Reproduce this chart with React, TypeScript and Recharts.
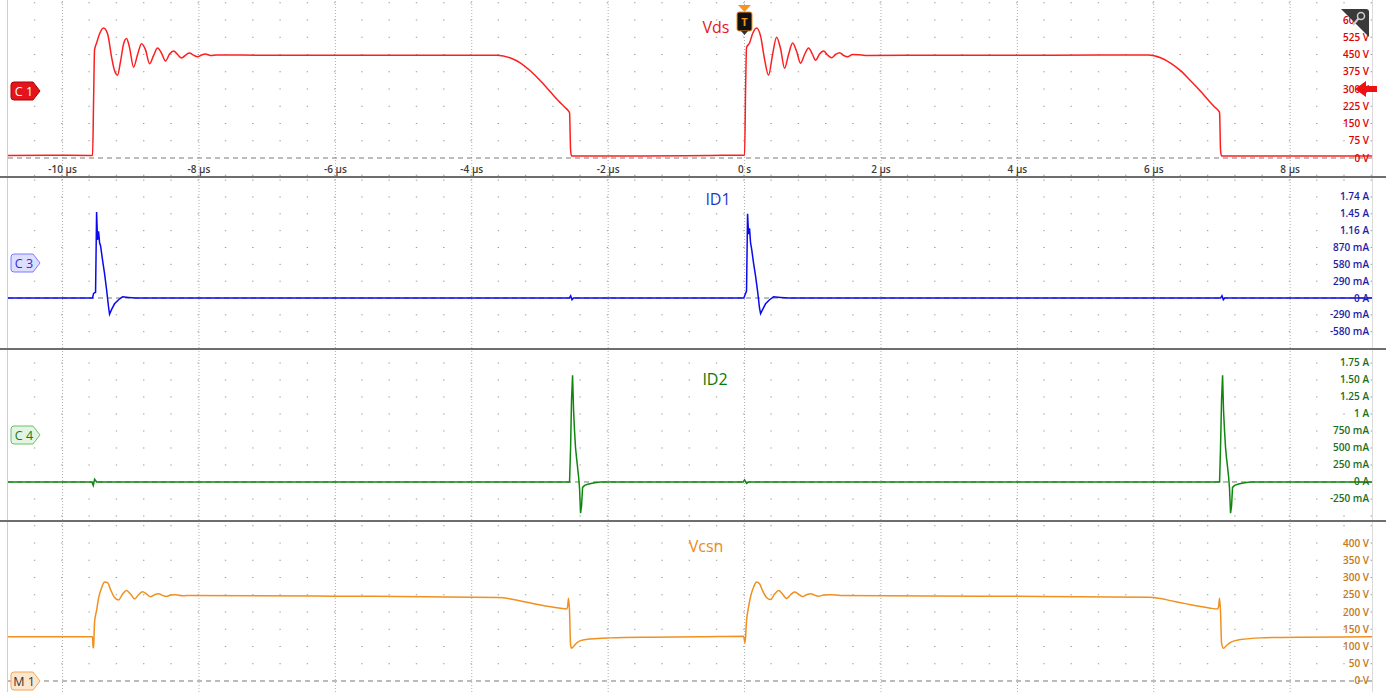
import React from 'react';
import { LineChart, Line, XAxis, YAxis, ReferenceLine } from 'recharts';

// ---------- axes ----------
const X_DOMAIN: [number, number] = [-10.8, 9.2];
const timeTicks = [-10, -8, -6, -4, -2, 0, 2, 4, 6, 8];
const timeTickLabels = ['-10 µs', '-8 µs', '-6 µs', '-4 µs', '-2 µs', '0 s', '2 µs', '4 µs', '6 µs', '8 µs'];

const vdsTicks = [0, 75, 150, 225, 300, 375, 450, 525, 600];
const vdsTickLabels = ['0 V', '75 V', '150 V', '225 V', '300 V', '375 V', '450 V', '525 V', '600 V'];
const vdsGrid = [-75, 75, 150, 225, 300, 375, 450, 525, 600, 675];

const id1Ticks = [-0.58, -0.29, 0, 0.29, 0.58, 0.87, 1.16, 1.45, 1.74];
const id1TickLabels = ['-580 mA', '-290 mA', '0 A', '290 mA', '580 mA', '870 mA', '1.16 A', '1.45 A', '1.74 A'];
const id1Grid = [-0.58, -0.29, 0.29, 0.58, 0.87, 1.16, 1.45, 1.74, 2.03];

const id2Ticks = [-0.25, 0, 0.25, 0.5, 0.75, 1, 1.25, 1.5, 1.75];
const id2TickLabels = ['-250 mA', '0 A', '250 mA', '500 mA', '750 mA', '1 A', '1.25 A', '1.50 A', '1.75 A'];
const id2Grid = [-0.5, -0.25, 0.25, 0.5, 0.75, 1, 1.25, 1.5, 1.75];

const vcsnTicks = [0, 50, 100, 150, 200, 250, 300, 350, 400];
const vcsnTickLabels = ['0 V', '50 V', '100 V', '150 V', '200 V', '250 V', '300 V', '350 V', '400 V'];
const vcsnGrid = [50, 100, 150, 200, 250, 300, 350, 400, 450];

// ---------- series (time µs, value) ----------
const vdsPoints: [number, number][] = [
  [-10.8, 11], [-10.2, 12], [-9.6, 11], [-9.56, 12], [-9.545, 250], [-9.531, 470], [-9.501, 500],
  [-9.457, 540], [-9.399, 565], [-9.34, 540], [-9.282, 440], [-9.238, 380], [-9.194, 360], [-9.15, 420],
  [-9.106, 495], [-9.062, 520], [-9.018, 480], [-8.959, 395], [-8.9, 450], [-8.842, 497], [-8.783, 470],
  [-8.724, 410], [-8.666, 445], [-8.607, 478], [-8.548, 455], [-8.49, 422], [-8.431, 452], [-8.372, 465],
  [-8.314, 450], [-8.255, 435], [-8.196, 447], [-8.138, 456], [-8.079, 447], [-8.02, 440], [-7.962, 448],
  [-7.903, 452], [-7.83, 446], [-7.742, 448], [-7.0, 447], [-5.5, 447], [-4.5, 447], [-3.622, 447],
  [-3.431, 435], [-3.284, 413], [-3.138, 378], [-2.991, 335], [-2.845, 287], [-2.727, 248], [-2.639, 222],
  [-2.581, 204], [-2.566, 196], [-2.551, 35], [-2.537, 9], [-1.5, 9], [-0.5, 11], [-0.02, 12],
  [0.0, 12], [0.015, 300], [0.029, 480], [0.073, 500], [0.117, 540], [0.176, 565], [0.235, 530],
  [0.293, 430], [0.352, 360], [0.411, 450], [0.469, 525], [0.528, 475], [0.587, 390], [0.645, 450],
  [0.704, 500], [0.762, 465], [0.821, 412], [0.88, 450], [0.938, 478], [0.997, 450], [1.041, 425],
  [1.1, 452], [1.158, 465], [1.217, 448], [1.276, 436], [1.334, 450], [1.393, 458], [1.452, 446],
  [1.51, 440], [1.584, 450], [1.672, 449], [1.774, 446], [3.0, 447], [4.5, 447], [5.924, 448],
  [6.1, 436], [6.246, 413], [6.393, 380], [6.54, 336], [6.686, 290], [6.804, 250], [6.892, 222],
  [6.95, 205], [6.965, 196], [6.979, 35], [6.994, 9], [8.0, 9], [9.2, 9],
];

const id1Points: [number, number][] = [
  [-10.8, 0], [-9.56, 0], [-9.545, 0.08], [-9.516, 0.1], [-9.501, 1.48], [-9.487, 1.0], [-9.472, 1.15],
  [-9.457, 0.95], [-9.443, 0.9], [-9.413, 0.65], [-9.384, 0.42], [-9.355, 0.15], [-9.326, -0.15],
  [-9.311, -0.28], [-9.282, -0.2], [-9.238, -0.1], [-9.179, -0.03], [-9.12, 0.02], [-9.032, 0.01],
  [-8.93, 0], [-2.57, 0], [-2.55, 0.04], [-2.53, -0.03], [-2.51, 0], [-0.01, 0],
  [0.015, 0.08], [0.029, 0.12], [0.044, 1.45], [0.059, 1.1], [0.073, 1.2], [0.088, 0.95], [0.103, 0.85],
  [0.132, 0.6], [0.161, 0.38], [0.191, 0.12], [0.22, -0.18], [0.235, -0.27], [0.264, -0.2], [0.308, -0.1],
  [0.367, -0.03], [0.425, 0.02], [0.528, 0.01], [0.645, 0], [6.98, 0], [7.0, 0.04], [7.02, -0.03],
  [7.04, 0], [9.2, 0],
];

const id2Points: [number, number][] = [
  [-10.8, 0], [-9.57, 0], [-9.55, -0.05], [-9.53, 0.04], [-9.5, 0], [-2.566, 0], [-2.551, 0.5],
  [-2.537, 1.2], [-2.522, 1.57], [-2.507, 1.05], [-2.493, 0.75], [-2.478, 0.5], [-2.463, 0.35],
  [-2.449, 0.22], [-2.434, 0.08], [-2.419, -0.1], [-2.405, -0.46], [-2.39, -0.35], [-2.375, -0.08],
  [-2.346, -0.05], [-2.287, -0.03], [-2.199, -0.01], [-2.111, 0], [-0.02, 0], [0.0, 0.03], [0.03, -0.02],
  [0.06, 0], [6.965, 0], [6.979, 0.5], [6.994, 1.2], [7.009, 1.57], [7.023, 1.05], [7.038, 0.75],
  [7.053, 0.5], [7.067, 0.35], [7.082, 0.22], [7.097, 0.08], [7.111, -0.1], [7.126, -0.46], [7.141, -0.35],
  [7.155, -0.08], [7.185, -0.05], [7.243, -0.03], [7.331, -0.01], [7.419, 0], [9.2, 0],
];

const vcsnPoints: [number, number][] = [
  [-10.8, 128], [-9.56, 128], [-9.553, 96], [-9.545, 100], [-9.531, 170], [-9.501, 205], [-9.472, 240],
  [-9.428, 270], [-9.384, 287], [-9.34, 285], [-9.296, 265], [-9.238, 242], [-9.179, 235], [-9.12, 252],
  [-9.062, 262], [-9.003, 252], [-8.944, 238], [-8.886, 250], [-8.827, 259], [-8.768, 252], [-8.71, 244],
  [-8.651, 250], [-8.592, 253], [-8.534, 248], [-8.475, 245], [-8.416, 249], [-8.343, 250], [-8.24, 247],
  [-8.123, 248], [-6.0, 246], [-3.622, 242], [-3.431, 238], [-3.284, 232], [-3.138, 226], [-2.991, 220],
  [-2.845, 215], [-2.698, 211], [-2.61, 209], [-2.595, 215], [-2.581, 240], [-2.566, 200], [-2.551, 105],
  [-2.537, 95], [-2.507, 100], [-2.463, 110], [-2.405, 117], [-2.258, 122], [-1.965, 125], [-1.378, 127],
  [-0.645, 128], [-0.015, 130], [0.007, 110], [0.029, 175], [0.059, 215], [0.088, 245], [0.132, 272],
  [0.176, 287], [0.22, 282], [0.264, 262], [0.323, 242], [0.381, 236], [0.44, 252], [0.499, 262],
  [0.557, 252], [0.616, 239], [0.674, 250], [0.733, 258], [0.792, 252], [0.85, 245], [0.909, 250],
  [0.968, 253], [1.026, 249], [1.085, 246], [1.158, 249], [1.261, 250], [1.408, 248], [3.5, 246],
  [5.924, 243], [6.1, 239], [6.246, 233], [6.393, 227], [6.54, 221], [6.686, 216], [6.833, 211],
  [6.935, 209], [6.95, 215], [6.965, 240], [6.979, 200], [6.994, 110], [7.023, 95], [7.067, 103],
  [7.126, 112], [7.273, 120], [7.566, 125], [8.152, 127], [9.2, 128],
];

const toData = (pts: [number, number][]) => pts.map(([t, v]) => ({ t, v }));

const FONT = '"Open Sans", "DejaVu Sans", sans-serif';
const MINOR_DASH = '1.4 25.88';

type PanelProps = {
  top: number;
  height: number;
  points: [number, number][];
  color: string;
  labelColor: string;
  domain: [number, number];
  ticks: number[];
  tickLabels: string[];
  grid: number[];
  curve: 'linear' | 'monotone';
  showTime?: boolean;
};

function Panel(p: PanelProps) {
  const renderYTick = (props: any) => {
    const idx = p.ticks.indexOf(props.payload.value);
    return (
      <text x={1369} y={props.y} dy={3.5} textAnchor="end" fill={p.labelColor} fontSize={10}
        fontWeight={600} fontFamily={FONT}>
        {idx >= 0 ? p.tickLabels[idx] : ''}
      </text>
    );
  };
  const renderXTick = (props: any) => {
    const idx = timeTicks.indexOf(props.payload.value);
    return (
      <text x={props.x} y={173} textAnchor="middle" fill="#3c3c3c" fontSize={10} fontWeight={600}
        fontFamily={FONT}>
        {idx >= 0 ? timeTickLabels[idx] : ''}
      </text>
    );
  };
  return (
    <div style={{ position: 'absolute', left: 0, top: p.top, width: 1386, height: p.height }}>
      <LineChart width={1386} height={p.height} data={toData(p.points)}
        margin={{ top: 0, right: 14, bottom: 0, left: 8 }}>
        {p.showTime ? (
          <XAxis type="number" dataKey="t" domain={X_DOMAIN} allowDataOverflow ticks={timeTicks}
            interval={0} mirror axisLine={false} tickLine={false} tick={renderXTick} height={20} />
        ) : (
          <XAxis type="number" dataKey="t" domain={X_DOMAIN} allowDataOverflow hide />
        )}
        <YAxis type="number" domain={p.domain} allowDataOverflow orientation="right" mirror
          ticks={p.ticks} interval={0} axisLine={false} tickLine={false} tick={renderYTick} width={60} />
        {p.grid.map((g) => (
          <ReferenceLine key={'g' + g} y={g} stroke="#9c9c9c" strokeDasharray={MINOR_DASH} />
        ))}
        {timeTicks.map((t) => (
          <ReferenceLine key={'v' + t} x={t} stroke="#b0b0b0" strokeDasharray="1 2" />
        ))}
        <ReferenceLine y={0} stroke="#7a7a7a" strokeDasharray="5 4" />
        <Line type={p.curve} dataKey="v" stroke={p.color} strokeWidth={1.5} dot={false}
          isAnimationActive={false} />
      </LineChart>
    </div>
  );
}

function Marker({ yc, label, fill, stroke, textColor }: { yc: number; label: string; fill: string; stroke: string; textColor: string }) {
  const x0 = 11;
  const d = `M ${x0 + 3} ${yc - 9} H ${x0 + 22} L ${x0 + 29} ${yc} L ${x0 + 22} ${yc + 9} H ${x0 + 3} Q ${x0} ${yc + 9} ${x0} ${yc + 6} V ${yc - 6} Q ${x0} ${yc - 9} ${x0 + 3} ${yc - 9} Z`;
  return (
    <g>
      <path d={d} fill={fill} stroke={stroke} strokeWidth={1} />
      <text x={x0 + 13} y={yc + 4.5} textAnchor="middle" fill={textColor} fontSize={12.5} fontFamily={FONT}>
        {label}
      </text>
    </g>
  );
}

export default function App() {
  return (
    <div style={{ position: 'absolute', left: 0, top: 0, width: 1386, height: 692, background: '#fff', overflow: 'hidden' }}>
      <Panel top={0} height={176} points={vdsPoints} color="#ff1e1e" labelColor="#dd0000" curve="monotone"
        domain={[-78.26, 686.96]} ticks={vdsTicks} tickLabels={vdsTickLabels} grid={vdsGrid} showTime />
      <Panel top={178} height={170} points={id1Points} color="#0a0aee" labelColor="#1c1ca8" curve="linear"
        domain={[-0.861, 2.067]} ticks={id1Ticks} tickLabels={id1TickLabels} grid={id1Grid} />
      <Panel top={350} height={170} points={id2Points} color="#0f870f" labelColor="#1a6e1a" curve="linear"
        domain={[-0.559, 1.941]} ticks={id2Ticks} tickLabels={id2TickLabels} grid={id2Grid} />
      <Panel top={522} height={170} points={vcsnPoints} color="#f0901e" labelColor="#c47818" curve="monotone"
        domain={[-31.9, 460.9]} ticks={vcsnTicks} tickLabels={vcsnTickLabels} grid={vcsnGrid} />
      <svg width={1386} height={692} style={{ position: 'absolute', left: 0, top: 0, pointerEvents: 'none' }}>
        {/* borders / separators */}
        <line x1={7.5} y1={0} x2={7.5} y2={692} stroke="#cfcfcf" strokeWidth={1} />
        <line x1={1372.5} y1={0} x2={1372.5} y2={692} stroke="#dadada" strokeWidth={1} />
        <rect x={0} y={176} width={1386} height={2} fill="#6e6e6e" />
        <rect x={0} y={348} width={1386} height={2} fill="#6e6e6e" />
        <rect x={0} y={520} width={1386} height={2} fill="#6e6e6e" />
        {/* titles */}
        <text x={716} y={33} textAnchor="middle" fill="#e8141b" fontSize={16} fontFamily={FONT}>Vds</text>
        <text x={718} y={205} textAnchor="middle" fill="#1a3acc" fontSize={16} fontFamily={FONT}>ID1</text>
        <text x={715} y={385} textAnchor="middle" fill="#0a7a0a" fontSize={16} fontFamily={FONT}>ID2</text>
        <text x={706} y={552} textAnchor="middle" fill="#e8891c" fontSize={16} fontFamily={FONT}>Vcsn</text>
        {/* channel markers */}
        <Marker yc={91} label="C 1" fill="#e3141c" stroke="#b00000" textColor="#ffffff" />
        <Marker yc={263} label="C 3" fill="#dedeff" stroke="#7b7bff" textColor="#2a2ae0" />
        <Marker yc={435} label="C 4" fill="#e2f4e2" stroke="#6cc06c" textColor="#1b7a1b" />
        <Marker yc={681} label="M 1" fill="#fde7cc" stroke="#f2a65a" textColor="#333333" />
        {/* trigger marker */}
        <polygon points="738,5 751,5 744.5,12" fill="#f7941d" />
        <rect x={737} y={12} width={15} height={19} rx={2} fill="#111" stroke="#f7941d" strokeWidth={1} />
        <text x={744.5} y={26} textAnchor="middle" fill="#f7941d" fontSize={11} fontWeight={700} fontFamily={FONT}>T</text>
        <polygon points="741,31 748,31 744.5,35" fill="#333" />
        {/* trigger level arrow */}
        <polygon points="1355,89 1366,81 1366,86 1377,86 1377,92 1366,92 1366,97" fill="#ee1111" />
        {/* corner zoom icon */}
        <path d="M 1341 9 H 1366 Q 1369 9 1369 12 V 37 Z" fill="#3a3a3a" />
        <circle cx={1361} cy={16} r={3.5} fill="none" stroke="#d0d0d0" strokeWidth={1.5} />
        <line x1={1358.5} y1={18.5} x2={1353} y2={25} stroke="#d0d0d0" strokeWidth={2} />
      </svg>
    </div>
  );
}
